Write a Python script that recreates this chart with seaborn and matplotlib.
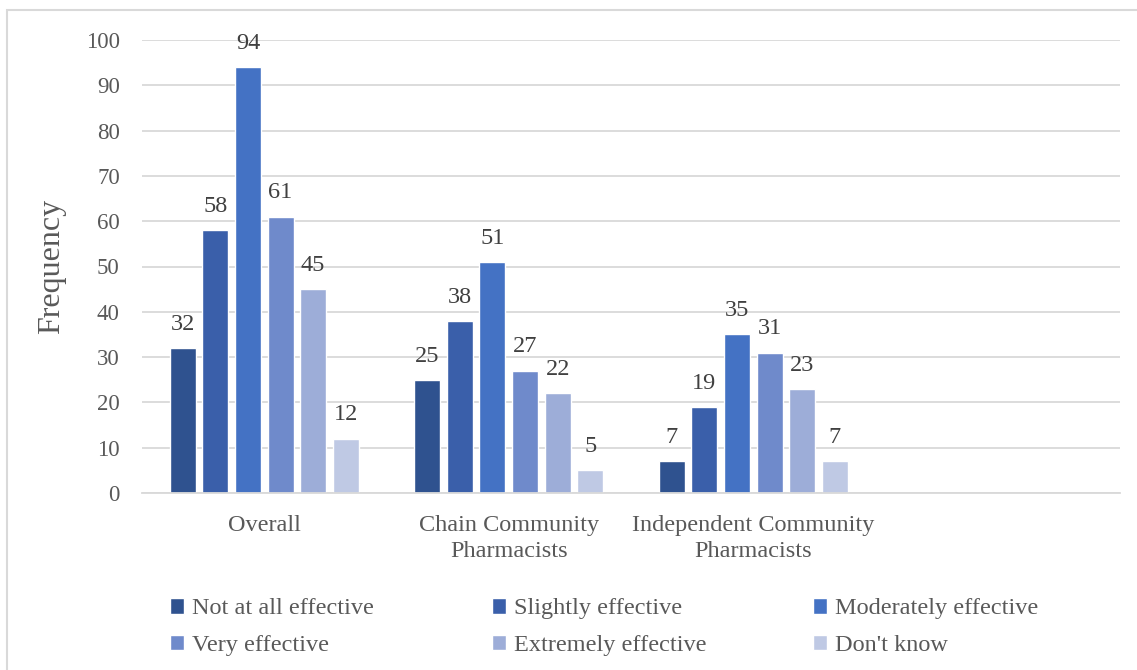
import matplotlib
matplotlib.use("Agg")
import matplotlib.pyplot as plt
from matplotlib.patches import Rectangle
import seaborn as sns
import pandas as pd

# Survey responses by pharmacist group
groups = ["Overall", "Chain Community\nPharmacists", "Independent Community\nPharmacists"]
ratings = ["Not at all effective", "Slightly effective", "Moderately effective",
           "Very effective", "Extremely effective", "Don't know"]
overall = [32, 58, 94, 61, 45, 12]
chain = [25, 38, 51, 27, 22, 5]
independent = [7, 19, 35, 31, 23, 7]
y_ticks = [0, 10, 20, 30, 40, 50, 60, 70, 80, 90, 100]

palette = ["#2F528F", "#3A5FAA", "#4472C4", "#6F8ACB", "#9DADD8", "#BFC9E4"]

rows = []
for g, vals in zip(groups, [overall, chain, independent]):
    for r, v in zip(ratings, vals):
        rows.append({"group": g, "rating": r, "count": v})
df = pd.DataFrame(rows)

sns.set_style("white")
plt.rcParams["font.family"] = ["Liberation Serif", "DejaVu Serif"]

text_color = "#595959"
grid_color = "#D9D9D9"

fig = plt.figure(figsize=(11.37, 6.70), dpi=100)
ax = fig.add_axes([142 / 1137, 1 - 493 / 670, (1120 - 142) / 1137, (493 - 40) / 670])

sns.barplot(data=df, x="group", y="count", hue="rating", order=groups,
            hue_order=ratings, palette=palette, width=0.8, gap=0.2,
            saturation=1, ax=ax, legend=True)

for cont in ax.containers:
    ax.bar_label(cont, padding=9.5, fontsize=17.5, color="#404040")

ax.set_xlim(-0.5, 3.5)
ax.set_ylim(0, 100)
ax.set_yticks(y_ticks)
ax.yaxis.grid(True, color=grid_color, linewidth=1.3)
ax.set_axisbelow(True)
for side in ["left", "right", "top"]:
    ax.spines[side].set_visible(False)
ax.spines["bottom"].set_color(grid_color)
ax.spines["bottom"].set_linewidth(1.3)
ax.tick_params(axis="both", length=0, labelcolor=text_color)
ax.tick_params(axis="y", pad=16, labelsize=16.5)
ax.tick_params(axis="x", pad=16, labelsize=17.5)
for lbl in ax.get_xticklabels():
    lbl.set_linespacing(1.3)
ax.set_xlabel("")
ax.set_ylabel("Frequency", fontsize=23, color=text_color, labelpad=14)

# Legend in three equally spaced columns, two rows each
handles, labels = ax.get_legend_handles_labels()
ax.get_legend().remove()
col_x = [148, 470, 791]
for j, x in enumerate(col_x):
    leg = fig.legend([handles[j], handles[j + 3]], [labels[j], labels[j + 3]],
                     loc="center left", bbox_to_anchor=(x / 1137, 1 - 627 / 670),
                     ncol=1, frameon=False, fontsize=17.5, labelcolor=text_color,
                     handlelength=0.6, handleheight=0.6, handletextpad=0.3,
                     labelspacing=0.62)

fig.add_artist(Rectangle((7 / 1137, -0.1), 1.2, 1 - 10 / 670 + 0.1,
                         transform=fig.transFigure, fill=False,
                         edgecolor=grid_color, linewidth=1.5))

fig.savefig("out.png", dpi=100)
